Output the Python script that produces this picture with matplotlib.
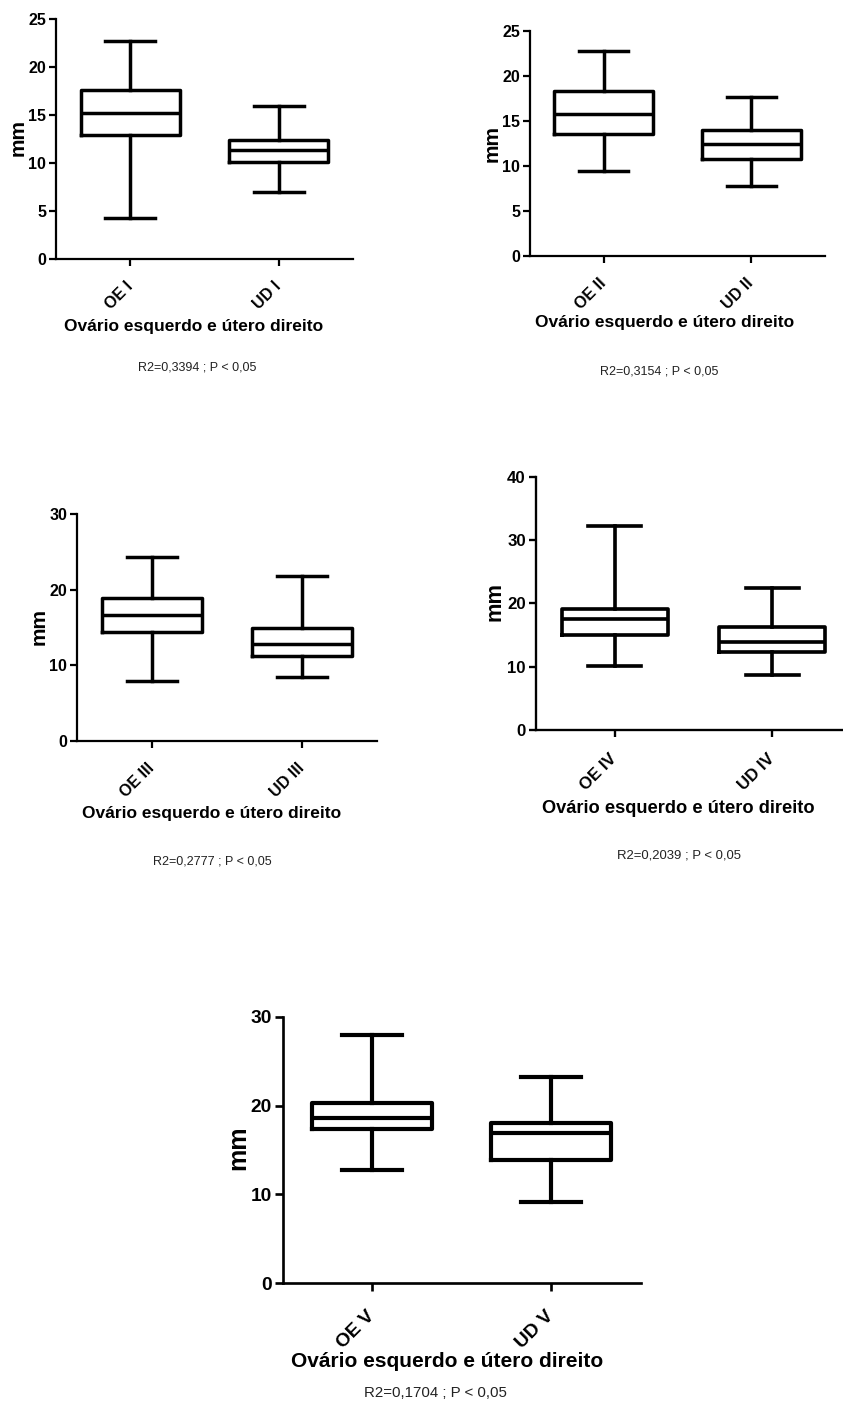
import numpy as np
import matplotlib.pyplot as plt

plt.rcParams['font.family'] = ['Liberation Sans Narrow', 'Liberation Sans', 'DejaVu Sans']

# box plot statistics (mm)
tick_labels = [["OE I", "UD I"], ["OE II", "UD II"], ["OE III", "UD III"],
               ["OE IV", "UD IV"], ["OE V", "UD V"]]
whisker_low = [[4.3, 7.0], [9.4, 7.8], [7.9, 8.4], [10.1, 8.7], [12.75, 9.2]]
quart_1 = [[12.95, 10.1], [13.5, 10.8], [14.35, 11.25], [15.0, 12.25], [17.35, 13.85]]
medians = [[15.2, 11.4], [15.75, 12.4], [16.6, 12.8], [17.5, 13.95], [18.65, 16.95]]
quart_3 = [[17.6, 12.4], [18.3, 14.0], [18.85, 14.85], [19.1, 16.2], [20.3, 18.05]]
whisker_high = [[22.7, 16.0], [22.8, 17.6], [24.35, 21.8], [32.2, 22.5], [27.9, 23.25]]
r2_values = ["0,3394", "0,3154", "0,2777", "0,2039", "0,1704"]
y_max = [25, 25, 30, 40, 30]
y_step = [5, 5, 10, 10, 10]

W, H = 843, 1405
fig = plt.figure(figsize=(W/100, H/100), dpi=100)

# panel layout in pixels: axes box (left, top, right, bottom), xlabel, ylabel, R2 text centres
boxes = [(56, 19.3, 353, 259.3), (530, 30.7, 825, 256), (77, 514, 377, 740.7),
         (536, 476.7, 851, 730), (282.7, 1016.7, 640.7, 1283.3)]
xlab_pos = [(193.5, 327), (665, 323), (212, 813.3), (678.3, 808.3), (446.7, 1361.7)]
ylab_pos = [(18, 138), (491.7, 143), (39, 626.7), (495, 601.7), (238.3, 1148)]
r2_pos = [(197.5, 368), (659, 372), (212, 861.7), (679, 855), (435, 1393)]
scale = [1.0, 1.0, 1.0, 1.05, 1.2]

for i in range(5):
    l, t, r, b = boxes[i]
    ax = fig.add_axes([l/W, 1-b/H, (r-l)/W, (b-t)/H])
    s = scale[i]
    stats = []
    for j in range(2):
        stats.append(dict(whislo=whisker_low[i][j], q1=quart_1[i][j], med=medians[i][j],
                          q3=quart_3[i][j], whishi=whisker_high[i][j], fliers=[]))
    lw = 2.5*s
    ax.bxp(stats, positions=[1, 2], widths=0.67, showfliers=False,
           boxprops=dict(color='black', linewidth=lw),
           medianprops=dict(color='black', linewidth=lw),
           whiskerprops=dict(color='black', linewidth=lw),
           capprops=dict(color='black', linewidth=lw))
    ax.set_xlim(0.5, 2.5)
    ax.set_ylim(0, y_max[i])
    yt = np.arange(0, y_max[i]+1, y_step[i])
    ax.set_yticks(yt)
    ax.set_yticklabels([str(v) for v in yt], fontsize=11.5*s, fontweight='bold')
    ax.set_xticks([1, 2])
    ax.set_xticklabels(tick_labels[i], rotation=45, ha='right', va='center',
                       rotation_mode='anchor', fontsize=11.5*s, fontweight='bold')
    ax.spines['top'].set_visible(False)
    ax.spines['right'].set_visible(False)
    ax.spines['left'].set_linewidth(1.6*s)
    ax.spines['bottom'].set_linewidth(1.6*s)
    ax.tick_params(axis='both', direction='out', length=5*s, width=1.6*s, pad=2)
    ax.tick_params(axis='x', pad=13*s)
    fig.text(xlab_pos[i][0]/W, 1-xlab_pos[i][1]/H, "Ovário esquerdo e útero direito",
             ha='center', va='center', fontsize=12.5*s, fontweight='bold')
    fig.text(ylab_pos[i][0]/W, 1-ylab_pos[i][1]/H, "mm", rotation=90,
             ha='center', va='center', fontsize=15*s, fontweight='bold')
    fig.text(r2_pos[i][0]/W, 1-r2_pos[i][1]/H, "R2=" + r2_values[i] + " ; P < 0,05",
             ha='center', va='center', fontsize=9*s, color='#222222')

fig.savefig("out.png", dpi=100, facecolor='white')
